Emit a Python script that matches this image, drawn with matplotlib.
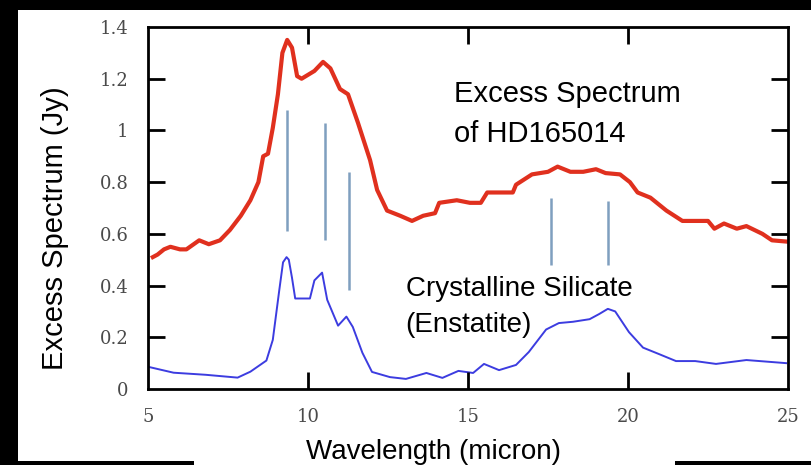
import numpy as np
import matplotlib
matplotlib.use("Agg")
from matplotlib import pyplot as plt
from matplotlib.patches import Rectangle

# excess spectrum (red)
red_w = [5.15, 5.3, 5.5, 5.7, 6.0, 6.2, 6.6, 6.9, 7.25, 7.56, 7.9, 8.2, 8.45, 8.6, 8.75, 8.9, 9.06,
         9.2, 9.35, 9.5, 9.66, 9.8, 10.2, 10.47, 10.7, 11.0, 11.25, 11.56, 11.94, 12.16, 12.47,
         12.88, 13.25, 13.6, 13.97, 14.1, 14.65, 15.06, 15.4, 15.6, 16.1, 16.4, 16.5, 17.0,
         17.5, 17.8, 18.2, 18.6, 19.0, 19.3, 19.75, 20.06, 20.3, 20.7, 21.2, 21.7, 22.5, 22.7,
         23.0, 23.4, 23.7, 24.2, 24.5, 24.97]
red_v = [0.51, 0.52, 0.54, 0.55, 0.54, 0.54, 0.575, 0.56, 0.575, 0.615, 0.67, 0.73, 0.80, 0.90,
         0.91, 1.01, 1.14, 1.30, 1.35, 1.32, 1.21, 1.20, 1.23, 1.265, 1.24, 1.16, 1.14, 1.03,
         0.885, 0.77, 0.69, 0.67, 0.65, 0.67, 0.68, 0.72, 0.73, 0.72, 0.72, 0.76, 0.76, 0.76,
         0.79, 0.83, 0.84, 0.86, 0.84, 0.84, 0.85, 0.835, 0.83, 0.80, 0.76, 0.74, 0.69, 0.65,
         0.65, 0.62, 0.64, 0.62, 0.63, 0.60, 0.575, 0.57]

# crystalline silicate (enstatite) model (blue)
blue_w = [5.0, 5.8, 6.8, 7.8, 8.2, 8.7, 8.9, 9.1, 9.22, 9.33, 9.4, 9.5, 9.6, 10.06, 10.2, 10.44,
          10.6, 10.94, 11.2, 11.4, 11.7, 12.0, 12.56, 13.06, 13.7, 14.2, 14.7, 15.16, 15.5,
          15.97, 16.5, 16.9, 17.44, 17.84, 18.28, 18.8, 19.1, 19.37, 19.6, 20.03, 20.47, 20.97,
          21.5, 22.1, 22.75, 23.7, 24.94]
blue_v = [0.086, 0.063, 0.055, 0.044, 0.067, 0.11, 0.19, 0.38, 0.49, 0.51, 0.50, 0.43, 0.35,
          0.35, 0.42, 0.45, 0.345, 0.245, 0.28, 0.24, 0.14, 0.066, 0.046, 0.039, 0.062, 0.043,
          0.07, 0.062, 0.097, 0.073, 0.093, 0.143, 0.23, 0.255, 0.26, 0.27, 0.29, 0.31, 0.30,
          0.22, 0.16, 0.135, 0.108, 0.108, 0.097, 0.112, 0.10]

# feature markers: wavelength, bottom, top
mark_w = [9.34, 10.53, 11.28, 17.6, 19.37]
mark_lo = [0.61, 0.576, 0.383, 0.48, 0.48]
mark_hi = [1.08, 1.03, 0.84, 0.74, 0.727]

xticks = [5, 10, 15, 20, 25]
yticks = [0, 0.2, 0.4, 0.6, 0.8, 1.0, 1.2, 1.4]
ylabels = ["0", "0.2", "0.4", "0.6", "0.8", "1", "1.2", "1.4"]

fig = plt.figure(figsize=(8.12, 4.65), dpi=100, facecolor="black")
W, H = 812.0, 465.0
fig.patches.append(Rectangle((18 / W, 4 / H), 794 / W, 451 / H, transform=fig.transFigure,
                             facecolor="white", edgecolor="none", zorder=-5))
fig.patches.append(Rectangle((194 / W, 0), 481 / W, 4 / H, transform=fig.transFigure,
                             facecolor="white", edgecolor="none", zorder=-5))

ax = fig.add_axes([148 / W, 76 / H, 640 / W, 362 / H])
ax.plot(red_w, red_v, color="#e0301e", lw=3.0)
ax.plot(blue_w, blue_v, color="#3c3ce0", lw=1.4)
ax.vlines(mark_w, mark_lo, mark_hi, color="#7f9fbf", lw=1.8)

ax.set_xlim(5, 25)
ax.set_ylim(0, 1.4)
ax.set_xticks(xticks)
ax.set_yticks(yticks)
ax.set_yticklabels(ylabels)
ax.tick_params(length=0, pad=14, labelsize=13, labelcolor="#4a4a4a")
for lab in ax.get_xticklabels() + ax.get_yticklabels():
    lab.set_family("DejaVu Serif")
for s in ax.spines.values():
    s.set_linewidth(2)

# inward tick marks on all four sides (drawn as short lines)
xt = ax.get_xaxis_transform()
yt = ax.get_yaxis_transform()
ax.vlines(xticks[1:-1], 0, 0.047, transform=xt, colors="black", lw=2, clip_on=False)
ax.vlines(xticks[1:-1], 1 - 0.047, 1, transform=xt, colors="black", lw=2, clip_on=False)
ax.hlines(yticks[1:-1], 0, 0.027, transform=yt, colors="black", lw=2, clip_on=False)
ax.hlines(yticks[1:-1], 1 - 0.027, 1, transform=yt, colors="black", lw=2, clip_on=False)

fig.text(433 / W, 1 - 452 / H, "Wavelength (micron)", family="Liberation Sans", fontsize=20,
         ha="center", va="center")
fig.text(55 / W, 1 - 228 / H, "Excess Spectrum (Jy)", family="Liberation Sans", fontsize=21,
         ha="center", va="center", rotation=90)

ax.text(14.56, 0.955, "Excess Spectrum\nof HD165014", family="Liberation Sans", fontsize=21,
        linespacing=1.55, va="baseline")
ax.text(13.05, 0.22, "Crystalline Silicate\n(Enstatite)", family="Liberation Sans",
        fontsize=20, linespacing=1.5, va="baseline")

fig.savefig("out.png", dpi=100, facecolor="black")
